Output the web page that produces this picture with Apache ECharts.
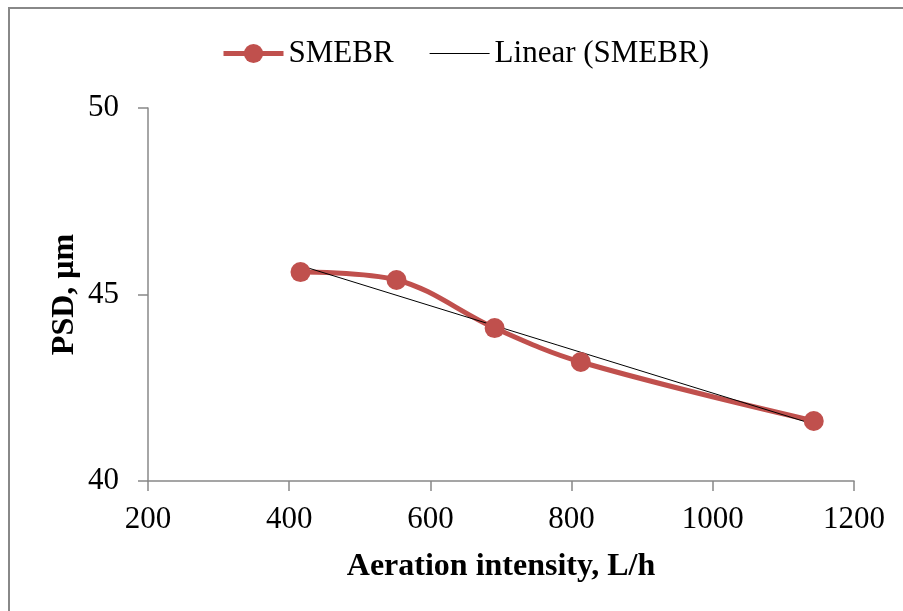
<!DOCTYPE html>
<html><head><meta charset="utf-8">
<script src="https://cdn.jsdelivr.net/npm/echarts@6/dist/echarts.min.js"></script>
<style>html,body{margin:0;padding:0;background:#fff}#c{width:903px;height:611px}</style>
</head><body><div id="c"></div>
<script>
var aeration = [416, 552, 691, 813, 1143];
var psd = [45.6, 45.39, 44.1, 43.19, 41.61];
var xTicks = [200, 400, 600, 800, 1000, 1200];
var yTicks = [40, 45, 50];
var seriesName = 'SMEBR';
var trendName = 'Linear (SMEBR)';

// least squares trendline
var n = aeration.length, sx=0, sy=0, sxx=0, sxy=0;
for (var i=0;i<n;i++){sx+=aeration[i];sy+=psd[i];sxx+=aeration[i]*aeration[i];sxy+=aeration[i]*psd[i];}
var slope = (n*sxy - sx*sy)/(n*sxx - sx*sx);
var icpt = (sy - slope*sx)/n;
var xMin = Math.min.apply(null, aeration), xMax = Math.max.apply(null, aeration);
var trend = [[xMin, icpt+slope*xMin],[xMax, icpt+slope*xMax]];

var font = 'Liberation Serif';
var chart = echarts.init(document.getElementById('c'));
chart.setOption({
  animation:false,
  graphic:[{type:'rect',shape:{x:9,y:8,width:1000,height:700},style:{fill:'none',stroke:'#888',lineWidth:2},silent:true}],
  legend:{top:33,left:216,itemGap:36,itemWidth:60,itemHeight:24,
    textStyle:{fontFamily:font,fontSize:31,color:'#000'},
    data:[{name:seriesName,lineStyle:{width:5}},{name:trendName,icon:'path://M0,0L60,0L60,1L0,1Z',itemStyle:{color:'#000'}}]},
  grid:{left:148,right:49,top:108,bottom:130},
  xAxis:{type:'value',min:200,max:1200,interval:200,
    name:'Aeration intensity, L/h',nameLocation:'middle',nameGap:70,
    nameTextStyle:{fontFamily:font,fontSize:32,fontWeight:'bold',color:'#000'},
    axisLine:{lineStyle:{color:'#888',width:1.5}},axisTick:{length:10,lineStyle:{color:'#888',width:1.5}},
    axisLabel:{fontFamily:font,fontSize:31,color:'#000',margin:23,formatter:function(v){return String(v);}},splitLine:{show:false}},
  yAxis:{type:'value',min:40,max:50,interval:5,
    name:'PSD, μm',nameLocation:'middle',nameGap:67,nameRotate:90,nameMoveOverlap:false,
    nameTextStyle:{fontFamily:font,fontSize:32,fontWeight:'bold',color:'#000'},
    axisLine:{show:true,lineStyle:{color:'#888',width:1.5}},axisTick:{show:true,length:10,lineStyle:{color:'#888',width:1.5}},
    axisLabel:{fontFamily:font,fontSize:31,color:'#000',margin:29,formatter:function(v){return String(v);}},splitLine:{show:false}},
  series:[
    {name:seriesName,type:'line',smooth:0.35,data:aeration.map(function(x,i){return [x,psd[i]];}),
     symbol:'circle',symbolSize:20,lineStyle:{color:'#C0504D',width:5},itemStyle:{color:'#C0504D'}},
    {name:trendName,type:'line',data:trend,symbol:'none',lineStyle:{color:'#000',width:1},itemStyle:{color:'#000'},z:3}
  ]
});
</script></body></html>
